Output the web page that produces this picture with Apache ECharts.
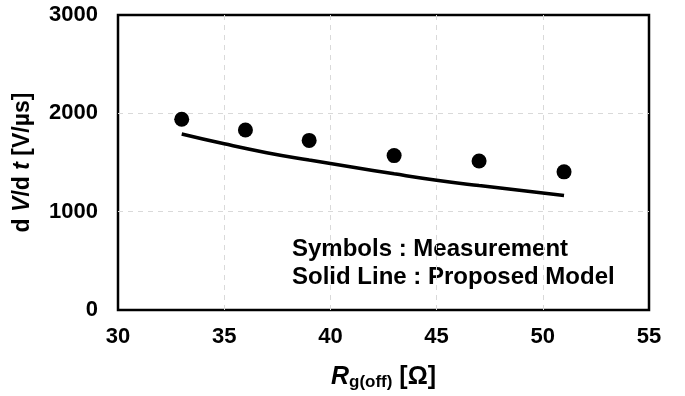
<!DOCTYPE html>
<html>
<head>
<meta charset="utf-8">
<script src="https://cdn.jsdelivr.net/npm/echarts@6/dist/echarts.min.js"></script>
<style>
  html, body { margin: 0; padding: 0; background: #fff; }
  #chart { width: 685px; height: 396px; }
</style>
</head>
<body>
<div id="chart"></div>
<script>
// Gate resistance values [Ω]
const rgMeasured = [33, 36, 39, 43, 47, 51];
// Measured dV/dt [V/µs]
const dvdtMeasured = [1940, 1830, 1725, 1570, 1515, 1405];
// Model curve sample points
const rgModel = [33, 35, 37, 39, 41, 43, 45, 47, 49, 51];
const dvdtModel = [1790, 1690, 1600, 1525, 1455, 1385, 1320, 1265, 1215, 1165];
// Axis ticks
const xTicks = [30, 35, 40, 45, 50, 55];
const yTicks = [0, 1000, 2000, 3000];

const FONT = '"Liberation Sans", Arial, sans-serif';

const chart = echarts.init(document.getElementById('chart'), null, { renderer: 'canvas' });

const gridLines = {
  show: true,
  showMinLine: false,
  showMaxLine: false,
  lineStyle: { color: '#d9d9d9', type: [5, 5], width: 1 }
};

const option = {
  animation: false,
  backgroundColor: '#ffffff',
  grid: {
    left: 118, top: 15, right: 36, bottom: 84,
    show: true, borderColor: '#000', borderWidth: 2.5, backgroundColor: 'transparent'
  },
  xAxis: {
    type: 'value',
    min: xTicks[0], max: xTicks[xTicks.length - 1], interval: 5,
    axisLine: { show: false },
    axisTick: { show: false },
    splitLine: gridLines,
    axisLabel: {
      color: '#000', fontFamily: FONT, fontWeight: 'bold', fontSize: 22, margin: 16,
      formatter: v => String(v)
    },
    name: '{ri|R}{sub|g(off)}{n| [Ω]}',
    nameLocation: 'middle',
    nameGap: 54,
    nameTextStyle: {
      rich: {
        ri: { fontFamily: FONT, fontWeight: 'bold', fontStyle: 'italic', fontSize: 25, color: '#000' },
        sub: { fontFamily: FONT, fontWeight: 'bold', fontSize: 17, color: '#000', padding: [10, 0, 0, 0] },
        n: { fontFamily: FONT, fontWeight: 'bold', fontSize: 25, color: '#000' }
      }
    }
  },
  yAxis: {
    type: 'value',
    min: yTicks[0], max: yTicks[yTicks.length - 1], interval: 1000,
    axisLine: { show: false },
    axisTick: { show: false },
    splitLine: gridLines,
    axisLabel: {
      color: '#000', fontFamily: FONT, fontWeight: 'bold', fontSize: 22, margin: 20,
      formatter: v => String(v)
    },
    name: '{n|d }{i|V}{n|/d }{i|t}{n| [V/µs]}',
    nameLocation: 'middle',
    nameRotate: 90,
    nameGap: 84,
    nameTextStyle: {
      rich: {
        n: { fontFamily: FONT, fontWeight: 'bold', fontSize: 23, color: '#000' },
        i: { fontFamily: FONT, fontWeight: 'bold', fontStyle: 'italic', fontSize: 23, color: '#000' }
      }
    }
  },
  series: [
    {
      name: 'Proposed Model',
      type: 'line',
      data: rgModel.map((x, i) => [x, dvdtModel[i]]),
      smooth: true,
      showSymbol: false,
      lineStyle: { color: '#000', width: 3.5 },
      z: 2
    },
    {
      name: 'Measurement',
      type: 'scatter',
      data: rgMeasured.map((x, i) => [x, dvdtMeasured[i]]),
      symbol: 'circle',
      symbolSize: 15,
      itemStyle: { color: '#000', opacity: 1 },
      z: 3
    }
  ],
  graphic: [
    {
      type: 'text', left: 292, top: 237,
      style: { text: 'Symbols : Measurement', font: 'bold 24px ' + FONT, fill: '#000' }
    },
    {
      type: 'text', left: 292, top: 265,
      style: { text: 'Solid Line : Proposed Model', font: 'bold 24px ' + FONT, fill: '#000' }
    }
  ]
};

chart.setOption(option);
</script>
</body>
</html>
